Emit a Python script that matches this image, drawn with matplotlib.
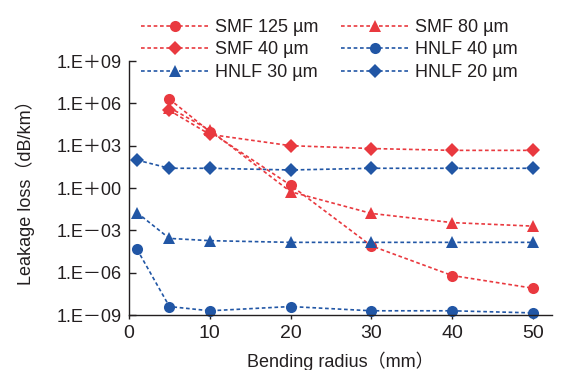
import numpy as np
import matplotlib.pyplot as plt

plt.rcParams['font.family'] = ['Liberation Sans', 'Noto Sans CJK JP']

# bending radius (mm)
radius_hnlf = [1, 5, 10, 20, 30, 40, 50]
radius_smf = [5, 10, 20, 30, 40, 50]

# leakage loss (dB/km), read as log10 values
smf_125 = [6.3, 4.0, 0.2, -4.1, -6.2, -7.1]
smf_80 = [5.7, 4.1, -0.26, -1.8, -2.45, -2.7]
smf_40 = [5.5, 3.8, 3.0, 2.8, 2.67, 2.67]
hnlf_40 = [-4.35, -8.4, -8.7, -8.4, -8.7, -8.7, -8.85]
hnlf_30 = [-1.75, -3.57, -3.73, -3.85, -3.85, -3.85, -3.85]
hnlf_20 = [1.98, 1.4, 1.4, 1.28, 1.4, 1.4, 1.4]

y_ticks = [-9, -6, -3, 0, 3, 6, 9]
# wide plus / minus signs as in the original typesetting
y_tick_labels = ['1.E\uff0d09', '1.E\uff0d06', '1.E\uff0d03', '1.E\uff0b00',
                 '1.E\uff0b03', '1.E\uff0b06', '1.E\uff0b09']
x_ticks = [0, 10, 20, 30, 40, 50]

RED = '#E9393F'
BLUE = '#2156A5'
TEXT = '#231F20'
DASH = (0, (2.2, 1.6))

series = [
    ('SMF 125 \u00b5m', radius_smf, smf_125, RED, 'o', 8),
    ('SMF 80 \u00b5m', radius_smf, smf_80, RED, '^', 9),
    ('SMF 40 \u00b5m', radius_smf, smf_40, RED, 'D', 7),
    ('HNLF 40 \u00b5m', radius_hnlf, hnlf_40, BLUE, 'o', 8),
    ('HNLF 30 \u00b5m', radius_hnlf, hnlf_30, BLUE, '^', 9),
    ('HNLF 20 \u00b5m', radius_hnlf, hnlf_20, BLUE, 'D', 7),
]

fig = plt.figure(figsize=(5.83, 3.70), dpi=100)
ax = fig.add_axes([0.2213, 0.1486, 0.7247, 0.6864])

handles = {}
for label, xs, logs, color, marker, ms in series:
    ys = np.power(10.0, logs)
    line, = ax.plot(xs, ys, color=color, linestyle=DASH, linewidth=1.2,
                    marker=marker, markersize=ms, markeredgewidth=0,
                    label=label, clip_on=False)
    handles[label] = line

ax.set_yscale('log')
ax.set_ylim(1e-9, 1e9)
ax.set_xlim(0, 52.3)
ax.yaxis.set_minor_locator(plt.NullLocator())
ax.set_yticks(np.power(10.0, y_ticks))
ax.set_yticklabels(y_tick_labels)
ax.set_xticks(x_ticks)

for side in ['top', 'right']:
    ax.spines[side].set_visible(False)
for side in ['left', 'bottom']:
    ax.spines[side].set_color(TEXT)
    ax.spines[side].set_linewidth(1.0)

ax.tick_params(axis='y', direction='in', length=5, width=1.0, pad=5.5,
               labelsize=13, colors=TEXT)
ax.tick_params(axis='x', direction='out', length=3, width=1.0, pad=4,
               labelsize=14, colors=TEXT)

ax.set_xlabel('Bending radius\uff08mm\uff09', fontsize=13, color=TEXT, labelpad=7)
ax.set_ylabel('Leakage loss\uff08dB/km\uff09', fontsize=13, color=TEXT, labelpad=15)

# legend is filled column by column, so order for a row-wise reading
order = ['SMF 125 \u00b5m', 'SMF 40 \u00b5m', 'HNLF 30 \u00b5m',
         'SMF 80 \u00b5m', 'HNLF 40 \u00b5m', 'HNLF 20 \u00b5m']
fig.legend([handles[k] for k in order], order, ncol=2, frameon=False,
           loc='upper left', bbox_to_anchor=(0.226, 0.973),
           fontsize=13, handlelength=3.75, handletextpad=0.35,
           columnspacing=1.25, labelspacing=0.3, borderpad=0,
           labelcolor=TEXT)

fig.savefig('out.png', dpi=100)
